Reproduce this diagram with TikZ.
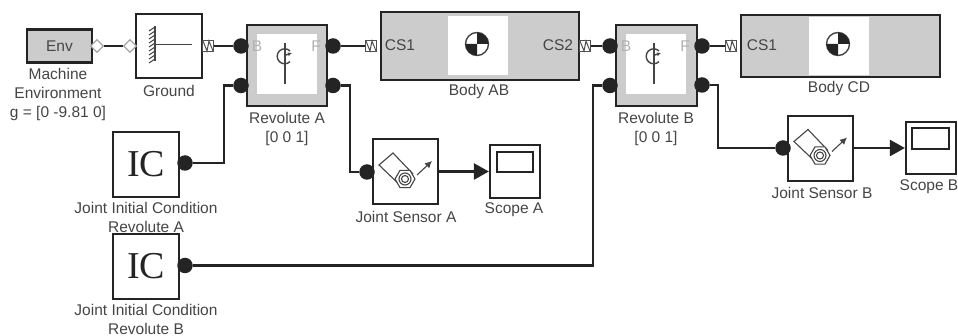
\documentclass[tikz,border=0pt]{standalone}
\usepackage{fontspec}
\setmainfont{Liberation Sans}
\newfontfamily\icfont{Liberation Serif}
\usetikzlibrary{shapes.geometric,arrows.meta}
\definecolor{ink}{gray}{0.14}
\definecolor{txt}{gray}{0.27}
\definecolor{panel}{gray}{0.80}
\tikzset{
  block/.style={draw=ink,line width=2.6pt,fill=white,inner sep=0pt,rectangle},
  greyblock/.style={block,fill=panel},
  innerwhite/.style={fill=white,draw=none,inner sep=0pt,rectangle},
  lbl/.style={text=txt,align=center,inner sep=0pt,font=\fontsize{15.5}{19}\selectfont},
  faint/.style={text=gray!60,inner sep=0pt,font=\fontsize{15.5}{19}\selectfont},
  dotport/.style={circle,fill=ink,draw=none,minimum size=15.5pt,inner sep=0pt},
  wire/.style={draw=ink,line width=2.4pt},
  sig/.style={draw=ink,line width=2.4pt,-{Triangle[length=15pt,width=16pt]}},
  dia/.style={diamond,draw=gray!70,fill=white,line width=1.3pt,minimum size=13pt,inner sep=0pt},
  portbox/.style={draw=ink!80,fill=white,line width=1.1pt,rectangle,minimum size=11pt,inner sep=0pt},
  icon/.style={draw=ink!85,line width=1.4pt}
}
\newcommand{\cgicon}[2]{%
  \begin{scope}[shift={(#1,#2)}]
    \draw[icon,fill=white] (0,0) circle (11.5pt);
    \fill[ink] (0,0) -- (11.5pt,0) arc[start angle=0,end angle=90,radius=11.5pt] -- cycle;
    \fill[ink] (0,0) -- (-11.5pt,0) arc[start angle=180,end angle=270,radius=11.5pt] -- cycle;
  \end{scope}}
\newcommand{\revicon}[2]{%
  \begin{scope}[shift={(#1,#2)}]
    \draw[icon] (0,-41) -- (0,0);
    \draw[icon] (5,-33) arc[start angle=45,end angle=315,radius=7.5pt];
    \draw[icon,-{Latex[length=4pt,width=4pt]}] (1,-29) -- (7,-31);
  \end{scope}}
\newcommand{\sensicon}[2]{%
  \begin{scope}[shift={(#1,#2)}]
    \draw[icon,line width=1.1pt] (8,-5) -- (-12,-26) -- (-26,-14) -- (-3,8);
    \draw[icon,fill=white,line width=1.1pt] (10,0) -- (5,-8.66) -- (-5,-8.66) -- (-10,0) -- (-5,8.66) -- (5,8.66) -- cycle;
    \draw[icon,line width=1.1pt] (0,0) circle (6pt);
    \draw[icon,line width=1.1pt] (0,0) circle (3.5pt);
    \draw[icon,line width=1.1pt,-{Latex[length=7pt,width=7pt]}] (12,-4) -- (27,-18);
  \end{scope}}
\newcommand{\porticon}[2]{%
  \begin{scope}[shift={(#1,#2)}]
    \draw[ink!80,line width=1pt] (-5,-5) -- (-1,5) -- (1,-5) -- (5,5);
  \end{scope}}
\begin{document}
\begin{tikzpicture}[x=1pt,y=-1pt]
\useasboundingbox (0,0) rectangle (958,336);
% blocks
\node[greyblock,minimum width=65pt,minimum height=33pt] (env) at (59.5,46) {};
\node[lbl] (envt) at (59.5,46) {Env};
\node[block,minimum width=66pt,minimum height=64pt] (ground) at (169,46) {};
\node[greyblock,minimum width=80pt,minimum height=81pt] (reva) at (287,65.5) {};
\node[innerwhite,minimum width=60pt,minimum height=60pt] (revaw) at (287,64) {};
\node[greyblock,minimum width=198pt,minimum height=68pt] (bodyab) at (480,46) {};
\node[innerwhite,minimum width=60pt,minimum height=59pt] (bodyabw) at (478,45.5) {};
\node[greyblock,minimum width=81pt,minimum height=81pt] (revb) at (656.5,65.5) {};
\node[innerwhite,minimum width=60pt,minimum height=60pt] (revbw) at (656,64) {};
\node[greyblock,minimum width=199pt,minimum height=62pt] (bodycd) at (840.5,46) {};
\node[innerwhite,minimum width=60pt,minimum height=58pt] (bodycdw) at (839,46) {};
\node[block,minimum width=66pt,minimum height=65pt] (ica) at (146,164.5) {};
\node[block,minimum width=66pt,minimum height=65pt] (icb) at (146,266.5) {};
\node[font=\icfont\fontsize{38}{38}\selectfont,text=ink,inner sep=0pt] (icat) at (146,164) {IC};
\node[font=\icfont\fontsize{38}{38}\selectfont,text=ink,inner sep=0pt] (icbt) at (146,266) {IC};
\node[block,minimum width=65pt,minimum height=65pt] (sensa) at (405.5,171.5) {};
\node[block,minimum width=65pt,minimum height=65pt] (sensb) at (820.5,148.5) {};
\node[block,line width=2.2pt,minimum width=50pt,minimum height=53pt] (scopea) at (515,171.5) {};
\node[block,line width=2pt,minimum width=36pt,minimum height=20pt] (scopeai) at (515,162) {};
\node[block,line width=2.2pt,minimum width=50pt,minimum height=52pt] (scopeb) at (931,148) {};
\node[block,line width=2pt,minimum width=37pt,minimum height=21pt] (scopebi) at (930.5,138.5) {};
% ports
\node[dia] (envp) at (97,46) {};
\node[dia] (grdp) at (130,46) {};
\node[portbox] (grdo) at (208,46) {};
\node[portbox] (cs1a) at (371,46) {};
\node[portbox] (cs2a) at (585,46) {};
\node[portbox] (cs1c) at (731,46) {};
\node[dotport] (rab) at (241,46) {};
\node[dotport] (ral) at (241,85.5) {};
\node[dotport] (raf) at (333,46) {};
\node[dotport] (rar) at (333,85.5) {};
\node[dotport] (rbb) at (610,46) {};
\node[dotport] (rbl) at (610,85.5) {};
\node[dotport] (rbf) at (702,46) {};
\node[dotport] (rbr) at (702,85) {};
\node[dotport] (icao) at (185,163) {};
\node[dotport] (icbo) at (185,265.5) {};
\node[dotport] (sai) at (367,172) {};
\node[dotport] (sbi) at (783,148) {};
\coordinate (ka) at (224,85.5);
\coordinate (kb) at (350,85.5);
\coordinate (kc) at (593,85.5);
\coordinate (kd) at (718,85);
% wires
\draw[wire] (envp) -- (grdp);
\draw[wire] (grdo) -- (rab);
\draw[wire] (raf) -- (cs1a);
\draw[wire] (cs2a) -- (rbb);
\draw[wire] (rbf) -- (cs1c);
\draw[wire] (icao) -| (ka) -- (ral);
\draw[wire] (rar) -- (kb) |- (sai);
\draw[wire] (icbo) -| (kc) -- (rbl);
\draw[wire] (rbr) -- (kd) |- (sbi);
\draw[sig] (sensa.east) -- (scopea.west);
\draw[sig] (sensb.east |- scopeb.west) -- (scopeb.west);
% port glyphs
\porticon{208}{46}\porticon{371}{46}\porticon{585}{46}\porticon{731}{46}
% ground glyph
\draw[icon] (155,26) -- (155,61);
\foreach \yy in {27,31,...,59}{\draw[icon,line width=1.1pt] (155,\yy) -- (149,\yy+4);}
\draw[icon] (155,44.5) -- (192,44.5);
% icons
\revicon{285}{84}\revicon{654}{84}
\cgicon{477}{44}\cgicon{838}{44}
\sensicon{405}{179}\sensicon{820}{155.5}
% labels
\node[lbl] (l1) at (58,94) {Machine\\Environment\\g = [0 -9.81 0]};
\node[lbl] (l2) at (169,91) {Ground};
\node[lbl] (l3) at (287,128.5) {Revolute A\\{}[0 0 1]};
\node[lbl] (l4) at (479,91.5) {Body AB};
\node[lbl] (l5) at (656,128.5) {Revolute B\\{}[0 0 1]};
\node[lbl] (l6) at (839,88.5) {Body CD};
\node[lbl] (l7) at (146,217.5) {Joint Initial Condition\\Revolute A};
\node[lbl] (l8) at (146,319.5) {Joint Initial Condition\\Revolute B};
\node[lbl] (l9) at (406,216.5) {Joint Sensor A};
\node[lbl] (l10) at (514,210) {Scope A};
\node[lbl] (l11) at (822,192.5) {Joint Sensor B};
\node[lbl] (l12) at (929,187) {Scope B};
\node[lbl] (c1) at (400,45) {CS1};
\node[lbl] (c2) at (558,45) {CS2};
\node[lbl] (c3) at (762,45) {CS1};
\node[faint] (fb1) at (257,46) {B};
\node[faint] (ff1) at (316,46) {F};
\node[faint] (fb2) at (626,46) {B};
\node[faint] (ff2) at (685,46) {F};
\end{tikzpicture}
\end{document}
